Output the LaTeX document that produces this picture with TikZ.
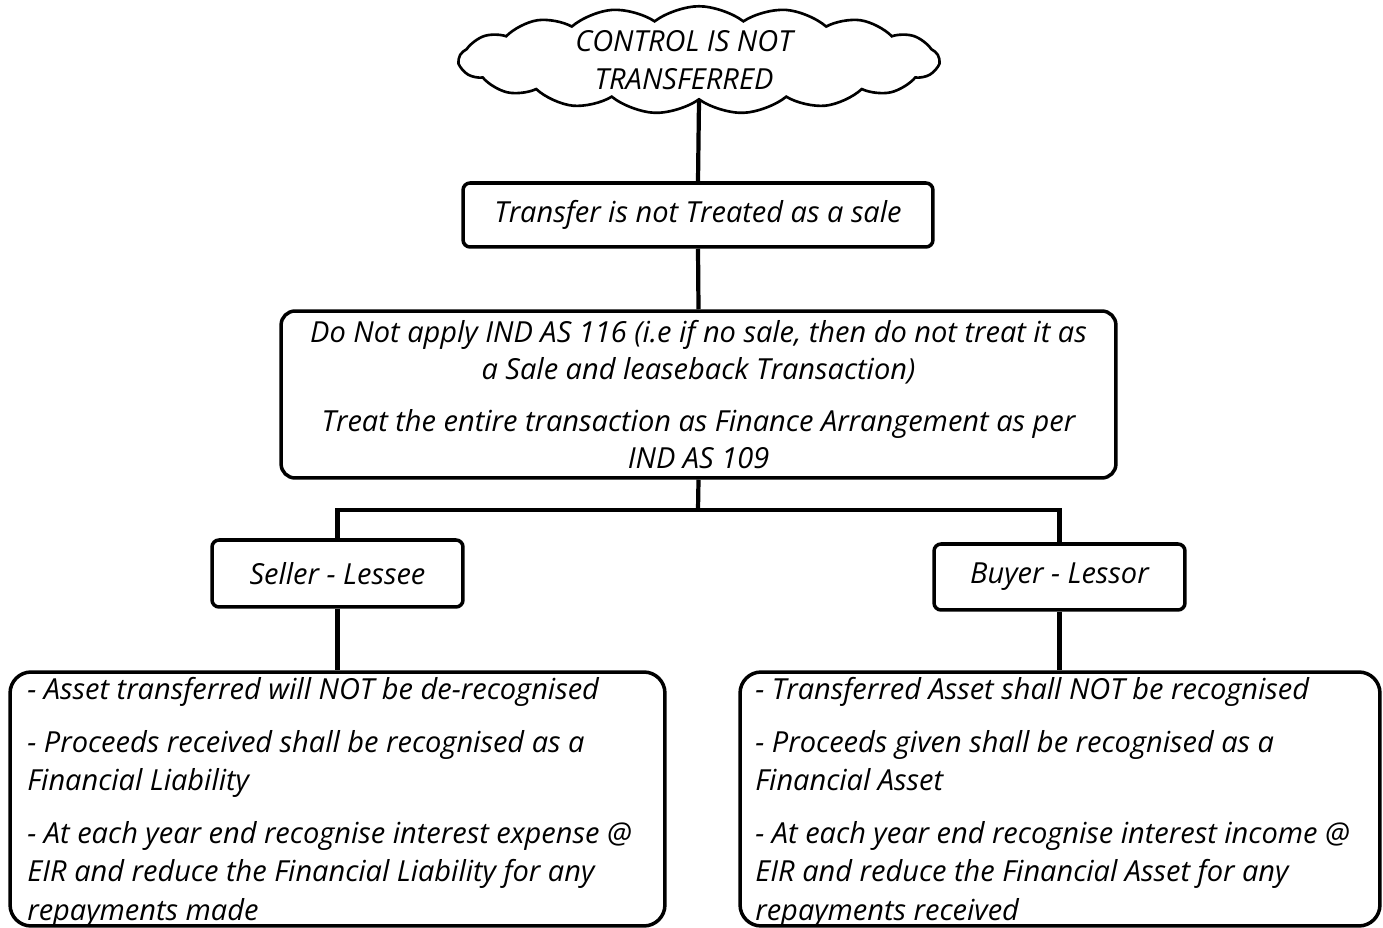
\documentclass[tikz,border=0pt]{standalone}
\usepackage{fontspec}
\setmainfont{Open Sans}
\usetikzlibrary{shapes.symbols}
\tikzset{
  hand/.style={font=\itshape\fontsize{16.5}{21.3}\selectfont},
  box/.style={draw, line width=2pt, fill=white, hand, inner sep=0pt},
  boxtext/.style={font=\itshape\fontsize{16.5}{21.7}\selectfont, align=left,
                  inner sep=0pt, anchor=north west},
  link/.style={line width=2.4pt},
}
\begin{document}
\begin{tikzpicture}[x=0.02cm, y=-0.02cm]
\useasboundingbox (0,0) rectangle (1383,928);

% cloud at the top
\node[cloud, draw, line width=1.5pt, cloud puffs=17, cloud puff arc=75,
      cloud ignores aspect, minimum width=9.6cm, minimum height=2.15cm,
      inner sep=0pt] (cloud) at (699,60) {};
\node[hand, align=center, inner sep=0pt] (cloudtext) at (684,60)
      {CONTROL IS NOT\\TRANSFERRED};

% main chain
\node[box, rounded corners=4pt, minimum width=9.4cm, minimum height=1.28cm]
  (nosale) at (698,215) {Transfer is not Treated as a sale};

\node[box, rounded corners=8pt, minimum width=16.7cm, minimum height=3.34cm, align=center]
  (finance) at (698.5,394.5)
  {Do Not apply IND AS 116 (i.e if no sale, then do not treat it as\\
   a Sale and leaseback Transaction)\\[8pt]
   Treat the entire transaction as Finance Arrangement as per\\
   IND AS 109};

% the two parties
\node[box, rounded corners=4pt, minimum width=5.02cm, minimum height=1.34cm]
  (seller) at (337.5,573.5) {Seller - Lessee};
\node[box, rounded corners=4pt, minimum width=5.02cm, minimum height=1.32cm]
  (buyer) at (1059.5,577) {Buyer - Lessor};

% accounting treatment for each party
\node[box, rounded corners=12pt, minimum width=13.1cm, minimum height=5.08cm]
  (sellerbox) at (337.5,799) {};
\node[boxtext] (sellertext) at (27,677)
  {- Asset transferred will NOT be de-recognised\\[8.5pt]
   - Proceeds received shall be recognised as a\\
   Financial Liability\\[8.5pt]
   - At each year end recognise interest expense @\\
   EIR and reduce the Financial Liability for any\\
   repayments made};

\node[box, rounded corners=12pt, minimum width=12.8cm, minimum height=5.08cm]
  (buyerbox) at (1060,799) {};
\node[boxtext] (buyertext) at (755,677)
  {- Transferred Asset shall NOT be recognised\\[8.5pt]
   - Proceeds given shall be recognised as a\\
   Financial Asset\\[8.5pt]
   - At each year end recognise interest income @\\
   EIR and reduce the Financial Asset for any\\
   repayments received};

% connectors
\coordinate (split) at (698,510);
\draw[link] (cloud.south) -- (nosale.north);
\draw[link] (nosale.south) -- (finance.north);
\draw[link] (finance.south) -- (split);
\draw[link] (split) -| (seller.north);
\draw[link] (split) -| (buyer.north);
\draw[link] (seller.south) -- (sellerbox.north -| seller.south);
\draw[link] (buyer.south) -- (buyerbox.north -| buyer.south);
\end{tikzpicture}
\end{document}
